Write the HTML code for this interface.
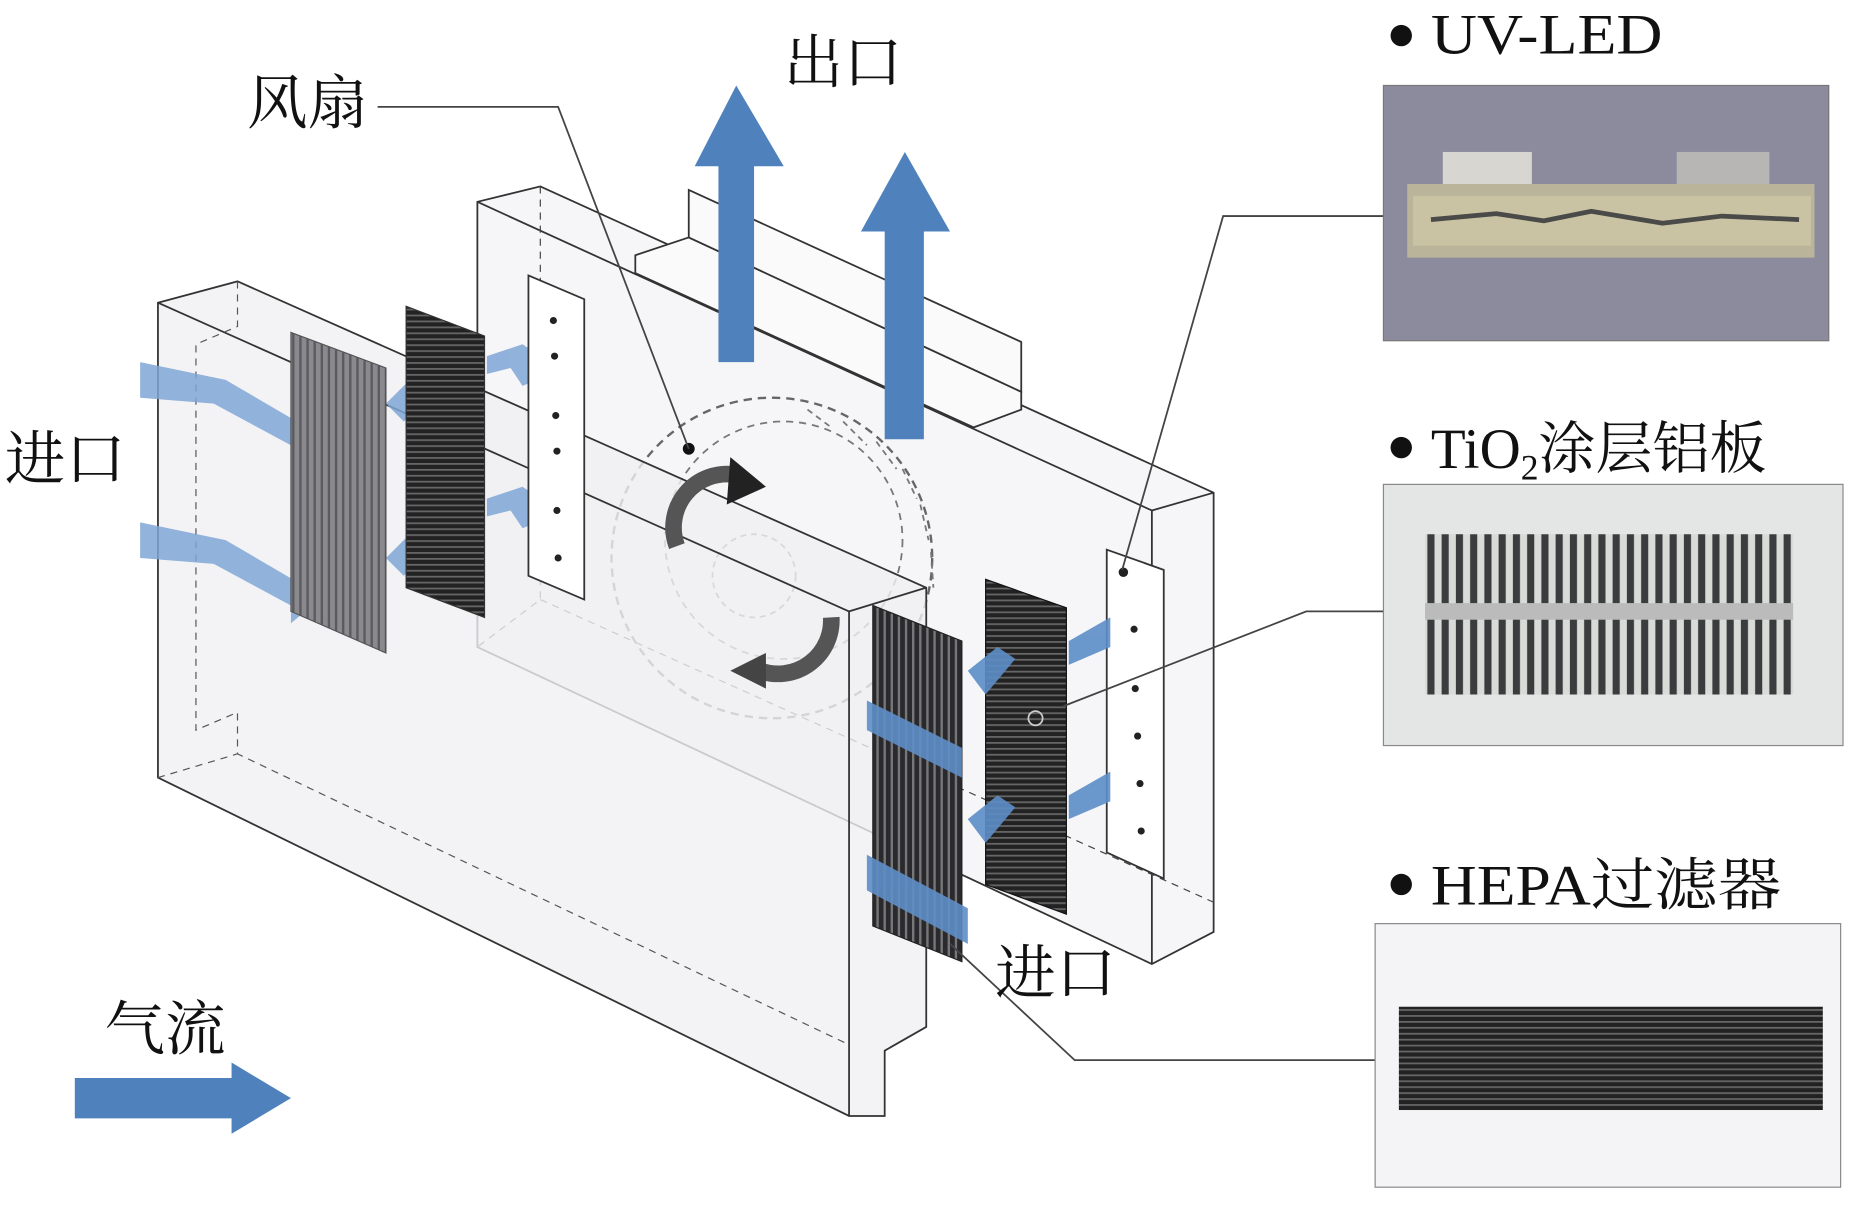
<!DOCTYPE html>
<html><head><meta charset="utf-8"><style>
html,body{margin:0;padding:0;background:#fff;}
svg{display:block;}
text{font-family:"Liberation Serif","Noto Serif CJK SC",serif;fill:#111;}
</style></head><body>
<svg width="1862" height="1205" viewBox="0 0 1568 1015" preserveAspectRatio="none" xmlns="http://www.w3.org/2000/svg">
<defs>
<pattern id="st" width="6" height="10" patternUnits="userSpaceOnUse"><rect width="6" height="10" fill="#8a8a8e"/><rect width="2" height="10" fill="#5a5a60"/></pattern>
<pattern id="st2" width="6" height="10" patternUnits="userSpaceOnUse"><rect width="6" height="10" fill="#2a2a2e"/><rect width="2" height="10" fill="#777"/></pattern>
<pattern id="hz" width="10" height="5" patternUnits="userSpaceOnUse"><rect width="10" height="5" fill="#222"/><rect width="10" height="1.5" fill="#666"/></pattern>
<pattern id="comb" width="12" height="10" patternUnits="userSpaceOnUse"><rect width="12" height="10" fill="#d9dbd8"/><rect x="2" width="6" height="10" fill="#3a3c3e"/></pattern>
</defs>

<!-- back box -->
<polygon points="402,170 455,157 1022,415 1022,785 970,812 402,545" fill="#f6f6f8" stroke="#333" stroke-width="1.5"/>
<polyline points="402,170 970,430 970,812" fill="none" stroke="#333" stroke-width="1.5"/>
<line x1="970" y1="430" x2="1022" y2="415" stroke="#333" stroke-width="1.5"/>
<polyline points="455,157 455,505 402,545" fill="none" stroke="#444" stroke-dasharray="6,5"/>
<polyline points="455,505 1022,760" fill="none" stroke="#444" stroke-dasharray="6,5"/>

<!-- outlet flange -->
<polygon points="535,215 580,200 860,330 860,345 820,360 535,230" fill="#fafafa" stroke="#333" stroke-width="1.5"/>
<polygon points="580,160 860,288 860,330 580,200" fill="#fafafa" stroke="#333" stroke-width="1.5"/>

<!-- up arrows -->
<polygon points="605,305 635,305 635,140 660,140 620,72 585,140 605,140" fill="#4f82bd"/>
<polygon points="745,370 778,370 778,195 800,195 762,128 725,195 745,195" fill="#4f82bd"/>

<!-- fan -->
<circle cx="650" cy="470" r="135" fill="none" stroke="#666" stroke-width="2" stroke-dasharray="7,5"/>
<circle cx="660" cy="455" r="100" fill="none" stroke="#777" stroke-width="1.5" stroke-dasharray="6,5"/>
<circle cx="635" cy="485" r="35" fill="none" stroke="#777" stroke-width="1.5" stroke-dasharray="5,4"/>
<g stroke="#777" stroke-width="1.5" stroke-dasharray="5,4">
<line x1="680" y1="345" x2="700" y2="360"/><line x1="710" y1="355" x2="730" y2="375"/><line x1="738" y1="372" x2="755" y2="395"/><line x1="760" y1="395" x2="772" y2="420"/><line x1="775" y1="425" x2="782" y2="455"/><line x1="784" y1="465" x2="786" y2="495"/>
</g>

<!-- front box -->
<polygon points="133,255 200,237 780,495 780,865 745,885 745,940 715,940 133,655" fill="#f0f0f3" fill-opacity="0.8" stroke="#333" stroke-width="1.5"/>
<polyline points="133,255 715,515 715,940" fill="none" stroke="#333" stroke-width="1.5"/>
<line x1="715" y1="515" x2="780" y2="495" stroke="#333" stroke-width="1.5"/>
<polyline points="200,237 200,275 165,290 165,615 200,600 200,635 715,880" fill="none" stroke="#555" stroke-dasharray="6,5"/>
<polyline points="133,655 200,635" fill="none" stroke="#555" stroke-dasharray="6,5"/>

<!-- arrows across -->
<g fill="#7fa6d6" opacity="0.85">
<polygon points="118,305 190,320 250,355 250,340 275,365 245,390 245,375 180,340 118,335"/>
<polygon points="118,440 190,455 250,490 250,475 275,500 245,525 245,510 180,475 118,470"/>
<polygon points="325,340 345,320 370,330 340,355"/>
<polygon points="325,470 345,450 370,460 340,485"/>
<polygon points="410,300 440,290 455,300 465,315 440,325 430,310 410,315"/>
<polygon points="410,420 440,410 455,420 465,435 440,445 430,430 410,435"/>
</g>

<!-- left filters -->
<polygon points="245,280 325,310 325,550 245,515" fill="url(#st)" stroke="#555"/>
<polygon points="342,258 408,283 408,520 342,495" fill="url(#hz)" stroke="#333"/>
<polygon points="445,232 492,252 492,505 445,485" fill="#fff" stroke="#333" stroke-width="1.5"/>
<g fill="#222"><circle cx="466" cy="270" r="3"/><circle cx="467" cy="300" r="3"/><circle cx="468" cy="350" r="3"/><circle cx="469" cy="380" r="3"/><circle cx="469" cy="430" r="3"/><circle cx="470" cy="470" r="3"/></g>

<!-- rotation arrows -->
<path d="M570,460 A45,45 0 0 1 620,400" fill="none" stroke="#555" stroke-width="14"/>
<polygon points="615,385 645,410 612,425" fill="#222"/>
<path d="M700,520 A45,45 0 0 1 640,565" fill="none" stroke="#555" stroke-width="14"/>
<polygon points="645,550 615,565 645,580" fill="#444"/>
<circle cx="580" cy="378" r="5" fill="#111"/>

<!-- right filters -->
<polygon points="735,510 810,540 810,810 735,780" fill="url(#st2)" stroke="#222"/>
<polygon points="830,488 898,512 898,770 830,745" fill="url(#hz)" stroke="#111"/>
<circle cx="872" cy="605" r="6" fill="none" stroke="#ccc" stroke-width="1.5"/>
<polygon points="932,463 980,480 980,740 932,718" fill="#fff" stroke="#333" stroke-width="1.5"/>
<g fill="#222"><circle cx="946" cy="482" r="4"/><circle cx="955" cy="530" r="3"/><circle cx="956" cy="580" r="3"/><circle cx="958" cy="620" r="3"/><circle cx="960" cy="660" r="3"/><circle cx="961" cy="700" r="3"/></g>
<g fill="#5d8ec8" opacity="0.9">
<polygon points="730,590 810,630 810,655 730,615"/>
<polygon points="730,720 815,765 815,795 730,750"/>
<polygon points="815,565 840,545 855,555 830,585"/>
<polygon points="815,690 840,670 855,680 830,710"/>
<polygon points="900,540 935,520 935,545 900,560"/>
<polygon points="900,670 935,650 935,675 900,690"/>
</g>

<!-- airflow legend arrow -->
<polygon points="63,908 195,908 195,895 245,925 195,955 195,942 63,942" fill="#4f82bd"/>

<!-- leader lines -->
<g fill="none" stroke="#444" stroke-width="1.5">
<polyline points="318,90 470,90 580,378"/>
<polyline points="1165,182 1030,182 945,480"/>
<polyline points="1165,515 1100,515 895,595"/>
<polyline points="1158,893 905,893 800,795"/>
</g>

<!-- labels -->
<text x="208" y="104" font-size="50" textLength="102" lengthAdjust="spacingAndGlyphs">风扇</text>
<text x="660" y="70" font-size="50" textLength="100" lengthAdjust="spacingAndGlyphs">出口</text>
<text x="4" y="404" font-size="50" textLength="102" lengthAdjust="spacingAndGlyphs">进口</text>
<text x="838" y="837" font-size="50" textLength="102" lengthAdjust="spacingAndGlyphs">进口</text>
<text x="88" y="884" font-size="50" textLength="102" lengthAdjust="spacingAndGlyphs">气流</text>

<circle cx="1180" cy="30" r="9" fill="#111"/>
<text x="1205" y="45" font-size="48" textLength="195" lengthAdjust="spacingAndGlyphs">UV-LED</text>
<circle cx="1180" cy="377" r="9" fill="#111"/>
<text x="1205" y="394" font-size="48">TiO<tspan font-size="30" dy="10">2</tspan><tspan dy="-10">涂层铝板</tspan></text>
<circle cx="1180" cy="745" r="9" fill="#111"/>
<text x="1205" y="762" font-size="48" textLength="295" lengthAdjust="spacingAndGlyphs">HEPA过滤器</text>

<!-- photo 1 -->
<rect x="1165" y="72" width="375" height="215" fill="#8c8b9e" stroke="#777"/>
<rect x="1215" y="128" width="75" height="35" fill="#d8d6d0"/>
<rect x="1412" y="128" width="78" height="35" fill="#b8b6b4"/>
<rect x="1185" y="155" width="343" height="62" fill="#b9b49a"/>
<rect x="1190" y="165" width="335" height="42" fill="#c9c3a4"/>
<path d="M1205,185 L1260,180 L1300,186 L1340,178 L1400,188 L1450,182 L1515,185" stroke="#4a4a48" stroke-width="4" fill="none"/>
<!-- photo 2 -->
<rect x="1165" y="408" width="387" height="220" fill="#e4e6e6" stroke="#888"/>
<rect x="1200" y="450" width="310" height="135" fill="url(#comb)"/>
<rect x="1200" y="508" width="310" height="14" fill="#bbb"/>
<!-- photo 3 -->
<rect x="1158" y="778" width="392" height="222" fill="#f4f4f6" stroke="#888"/>
<rect x="1178" y="848" width="357" height="87" fill="url(#hz)"/>
</svg>
</body></html>
